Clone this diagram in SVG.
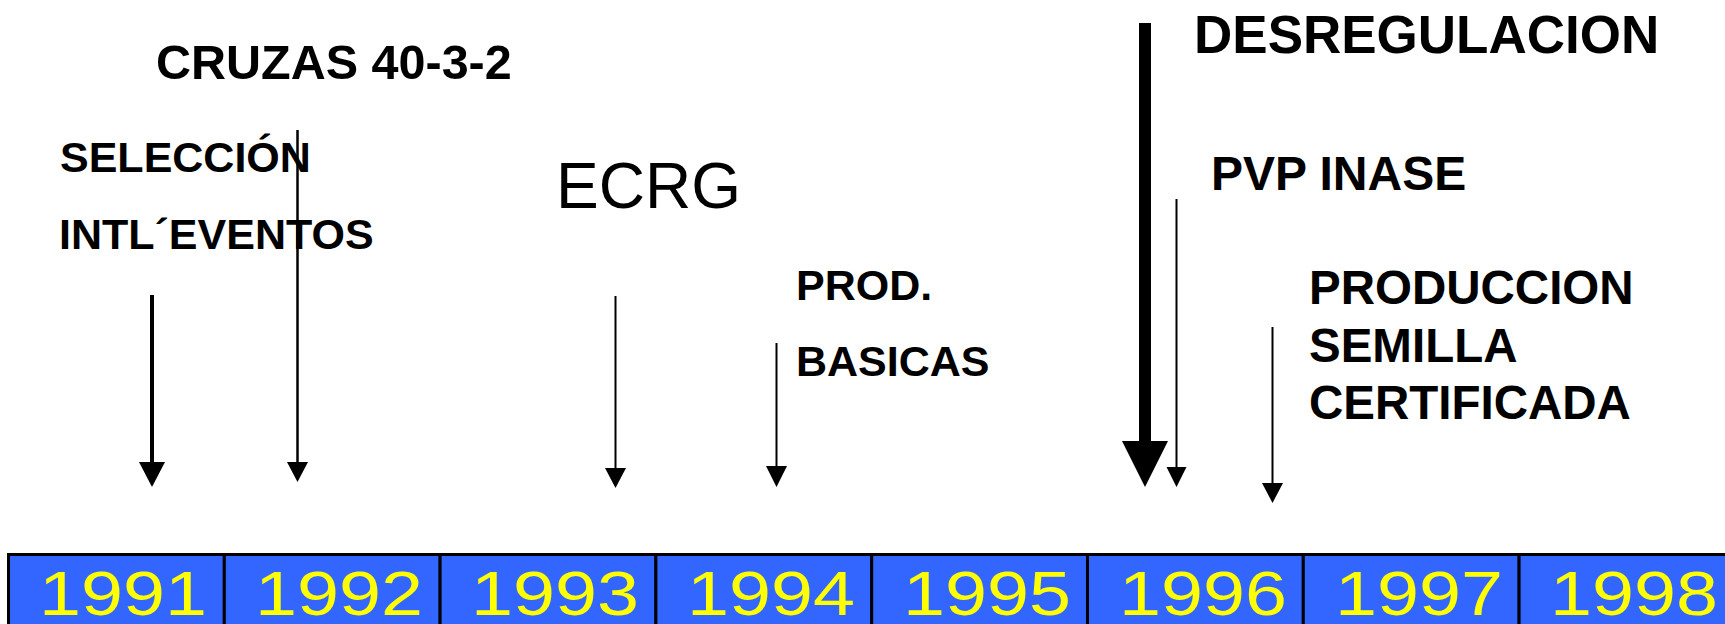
<svg xmlns="http://www.w3.org/2000/svg" width="1725" height="624" viewBox="0 0 1725 624">
<style>
.lbl{font-family:"Liberation Sans",Arial,sans-serif;font-weight:bold;fill:#000}
.reg{font-family:"Liberation Sans",Arial,sans-serif;font-weight:normal;fill:#000}
.yr{font-family:"Liberation Sans",Arial,sans-serif;font-size:63px;fill:#FFFF00}
.cell{fill:#3366FF;stroke:#000;stroke-width:3}
.ln{stroke:#000;fill:none}
.hd{fill:#000;stroke:none}
</style>
<rect width="1725" height="624" fill="#fff"/>
<g id="timeline">
<rect class="cell" x="8.5" y="554.5" width="215.8" height="80"/>
<rect class="cell" x="224.3" y="554.5" width="215.8" height="80"/>
<rect class="cell" x="440.1" y="554.5" width="215.8" height="80"/>
<rect class="cell" x="655.9" y="554.5" width="215.8" height="80"/>
<rect class="cell" x="871.7" y="554.5" width="215.8" height="80"/>
<rect class="cell" x="1087.5" y="554.5" width="215.8" height="80"/>
<rect class="cell" x="1303.3" y="554.5" width="215.8" height="80"/>
<rect class="cell" x="1519.1" y="554.5" width="215.8" height="80"/>
<text class="yr" x="39" y="615" textLength="168" lengthAdjust="spacingAndGlyphs">1991</text>
<text class="yr" x="255" y="615" textLength="168" lengthAdjust="spacingAndGlyphs">1992</text>
<text class="yr" x="471" y="615" textLength="168" lengthAdjust="spacingAndGlyphs">1993</text>
<text class="yr" x="687" y="615" textLength="168" lengthAdjust="spacingAndGlyphs">1994</text>
<text class="yr" x="903" y="615" textLength="168" lengthAdjust="spacingAndGlyphs">1995</text>
<text class="yr" x="1119" y="615" textLength="168" lengthAdjust="spacingAndGlyphs">1996</text>
<text class="yr" x="1335" y="615" textLength="168" lengthAdjust="spacingAndGlyphs">1997</text>
<text class="yr" x="1550" y="615" textLength="168" lengthAdjust="spacingAndGlyphs">1998</text>
</g>
<g id="n-cruzas"><text class="lbl" x="156" y="79" font-size="48.5">CRUZAS 40-3-2</text></g>
<g id="n-seleccion">
<text class="lbl" x="60" y="172" font-size="43">SELECCIÓN</text>
<text class="lbl" x="59" y="249" font-size="43">INTL´EVENTOS</text>
</g>
<g id="n-ecrg"><text class="reg" x="556" y="208" font-size="64">ECRG</text></g>
<g id="n-prod">
<text class="lbl" x="796" y="300" font-size="43">PROD.</text>
<text class="lbl" x="796" y="376" font-size="43">BASICAS</text>
</g>
<g id="n-desreg"><text class="lbl" x="1194" y="53" font-size="53">DESREGULACION</text></g>
<g id="n-pvp"><text class="lbl" x="1211" y="190" font-size="48">PVP INASE</text></g>
<g id="n-semilla">
<text class="lbl" x="1309" y="304" font-size="47.5">PRODUCCION</text>
<text class="lbl" x="1309" y="362" font-size="47.5">SEMILLA</text>
<text class="lbl" x="1309" y="419" font-size="47.5">CERTIFICADA</text>
</g>
<g id="connectors">
<line class="ln" x1="152" y1="295" x2="152" y2="464" stroke-width="4"/>
<polygon class="hd" points="139,462 165,462 152,487"/>
<line class="ln" x1="297.5" y1="130" x2="297.5" y2="464" stroke-width="2.5"/>
<polygon class="hd" points="287,462 308,462 297.5,482"/>
<line class="ln" x1="615.5" y1="296" x2="615.5" y2="470" stroke-width="2"/>
<polygon class="hd" points="605,468 626,468 615.5,488"/>
<line class="ln" x1="776.5" y1="343" x2="776.5" y2="468" stroke-width="2"/>
<polygon class="hd" points="766,466 787,466 776.5,487"/>
<line class="ln" x1="1145" y1="23" x2="1145" y2="443" stroke-width="12"/>
<polygon class="hd" points="1122,441 1168,441 1145,487"/>
<line class="ln" x1="1176.5" y1="199" x2="1176.5" y2="469" stroke-width="2"/>
<polygon class="hd" points="1166.5,467 1186.5,467 1176.5,487"/>
<line class="ln" x1="1272.5" y1="327" x2="1272.5" y2="485" stroke-width="2"/>
<polygon class="hd" points="1262,483 1283,483 1272.5,503"/>
</g>
</svg>
